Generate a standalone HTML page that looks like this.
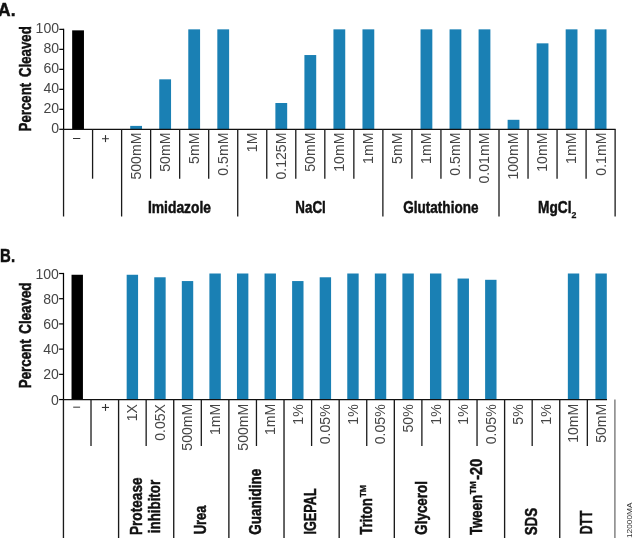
<!DOCTYPE html>
<html><head><meta charset="utf-8"><title>Percent Cleaved</title>
<style>
html,body{margin:0;padding:0;background:#fff;}
body{width:634px;height:538px;overflow:hidden;}
svg{display:block;font-family:'Liberation Sans', sans-serif;will-change:transform;}
</style></head><body>
<svg width="634" height="538" viewBox="0 0 634 538">
<rect width="634" height="538" fill="#fff"/>
<g id="shapes">
<line x1="63.60" y1="28.75" x2="63.60" y2="129.30" stroke="#000" stroke-width="1.25"/>
<line x1="59.30" y1="129.30" x2="63.55" y2="129.30" stroke="#000" stroke-width="1.2"/>
<line x1="59.30" y1="109.31" x2="63.55" y2="109.31" stroke="#000" stroke-width="1.2"/>
<line x1="59.30" y1="89.32" x2="63.55" y2="89.32" stroke="#000" stroke-width="1.2"/>
<line x1="59.30" y1="69.33" x2="63.55" y2="69.33" stroke="#000" stroke-width="1.2"/>
<line x1="59.30" y1="49.34" x2="63.55" y2="49.34" stroke="#000" stroke-width="1.2"/>
<line x1="59.30" y1="29.35" x2="63.55" y2="29.35" stroke="#000" stroke-width="1.2"/>
<rect x="72.16" y="30.35" width="11.80" height="98.95" fill="#000"/>
<rect x="130.22" y="125.90" width="11.80" height="3.40" fill="#1a80b4"/>
<rect x="159.25" y="79.33" width="11.80" height="49.98" fill="#1a80b4"/>
<rect x="188.28" y="29.35" width="11.80" height="99.95" fill="#1a80b4"/>
<rect x="217.32" y="29.35" width="11.80" height="99.95" fill="#1a80b4"/>
<rect x="275.38" y="103.01" width="11.80" height="26.29" fill="#1a80b4"/>
<rect x="304.41" y="55.04" width="11.80" height="74.26" fill="#1a80b4"/>
<rect x="333.44" y="29.35" width="11.80" height="99.95" fill="#1a80b4"/>
<rect x="362.47" y="29.35" width="11.80" height="99.95" fill="#1a80b4"/>
<rect x="420.53" y="29.35" width="11.80" height="99.95" fill="#1a80b4"/>
<rect x="449.56" y="29.35" width="11.80" height="99.95" fill="#1a80b4"/>
<rect x="478.59" y="29.35" width="11.80" height="99.95" fill="#1a80b4"/>
<rect x="507.62" y="119.80" width="11.80" height="9.50" fill="#1a80b4"/>
<rect x="536.64" y="43.34" width="11.80" height="85.96" fill="#1a80b4"/>
<rect x="565.68" y="29.35" width="11.80" height="99.95" fill="#1a80b4"/>
<rect x="594.71" y="29.35" width="11.80" height="99.95" fill="#1a80b4"/>
<line x1="63.05" y1="129.30" x2="615.62" y2="129.30" stroke="#111" stroke-width="1.15"/>
<line x1="63.55" y1="129.30" x2="63.55" y2="216.50" stroke="#1a1a1a" stroke-width="1.3"/>
<line x1="92.58" y1="129.30" x2="92.58" y2="178.70" stroke="#1a1a1a" stroke-width="1.3"/>
<line x1="121.61" y1="129.30" x2="121.61" y2="216.50" stroke="#1a1a1a" stroke-width="1.3"/>
<line x1="150.64" y1="129.30" x2="150.64" y2="178.70" stroke="#1a1a1a" stroke-width="1.3"/>
<line x1="179.67" y1="129.30" x2="179.67" y2="178.70" stroke="#1a1a1a" stroke-width="1.3"/>
<line x1="208.70" y1="129.30" x2="208.70" y2="178.70" stroke="#1a1a1a" stroke-width="1.3"/>
<line x1="237.73" y1="129.30" x2="237.73" y2="216.50" stroke="#1a1a1a" stroke-width="1.3"/>
<line x1="266.76" y1="129.30" x2="266.76" y2="178.70" stroke="#1a1a1a" stroke-width="1.3"/>
<line x1="295.79" y1="129.30" x2="295.79" y2="178.70" stroke="#1a1a1a" stroke-width="1.3"/>
<line x1="324.82" y1="129.30" x2="324.82" y2="178.70" stroke="#1a1a1a" stroke-width="1.3"/>
<line x1="353.85" y1="129.30" x2="353.85" y2="178.70" stroke="#1a1a1a" stroke-width="1.3"/>
<line x1="382.88" y1="129.30" x2="382.88" y2="216.50" stroke="#1a1a1a" stroke-width="1.3"/>
<line x1="411.91" y1="129.30" x2="411.91" y2="178.70" stroke="#1a1a1a" stroke-width="1.3"/>
<line x1="440.94" y1="129.30" x2="440.94" y2="178.70" stroke="#1a1a1a" stroke-width="1.3"/>
<line x1="469.97" y1="129.30" x2="469.97" y2="178.70" stroke="#1a1a1a" stroke-width="1.3"/>
<line x1="499.00" y1="129.30" x2="499.00" y2="216.50" stroke="#1a1a1a" stroke-width="1.3"/>
<line x1="528.03" y1="129.30" x2="528.03" y2="178.70" stroke="#1a1a1a" stroke-width="1.3"/>
<line x1="557.06" y1="129.30" x2="557.06" y2="178.70" stroke="#1a1a1a" stroke-width="1.3"/>
<line x1="586.09" y1="129.30" x2="586.09" y2="178.70" stroke="#1a1a1a" stroke-width="1.3"/>
<line x1="615.12" y1="129.30" x2="615.12" y2="216.50" stroke="#1a1a1a" stroke-width="1.3"/>
<rect x="73.00" y="138.00" width="7.30" height="1.00" fill="#333"/>
<rect x="102.00" y="138.15" width="6.90" height="1.10" fill="#444"/>
<rect x="104.95" y="135.10" width="1.10" height="7.00" fill="#333"/>
<line x1="63.49" y1="272.90" x2="63.49" y2="399.55" stroke="#000" stroke-width="1.25"/>
<line x1="59.10" y1="399.55" x2="63.44" y2="399.55" stroke="#000" stroke-width="1.2"/>
<line x1="59.10" y1="374.34" x2="63.44" y2="374.34" stroke="#000" stroke-width="1.2"/>
<line x1="59.10" y1="349.13" x2="63.44" y2="349.13" stroke="#000" stroke-width="1.2"/>
<line x1="59.10" y1="323.92" x2="63.44" y2="323.92" stroke="#000" stroke-width="1.2"/>
<line x1="59.10" y1="298.71" x2="63.44" y2="298.71" stroke="#000" stroke-width="1.2"/>
<line x1="59.10" y1="273.50" x2="63.44" y2="273.50" stroke="#000" stroke-width="1.2"/>
<rect x="71.53" y="274.76" width="11.40" height="124.79" fill="#000"/>
<rect x="126.67" y="274.76" width="11.40" height="124.79" fill="#1a80b4"/>
<rect x="154.25" y="277.28" width="11.40" height="122.27" fill="#1a80b4"/>
<rect x="181.82" y="281.06" width="11.40" height="118.49" fill="#1a80b4"/>
<rect x="209.39" y="273.50" width="11.40" height="126.05" fill="#1a80b4"/>
<rect x="236.96" y="273.50" width="11.40" height="126.05" fill="#1a80b4"/>
<rect x="264.54" y="273.50" width="11.40" height="126.05" fill="#1a80b4"/>
<rect x="292.11" y="281.06" width="11.40" height="118.49" fill="#1a80b4"/>
<rect x="319.68" y="277.28" width="11.40" height="122.27" fill="#1a80b4"/>
<rect x="347.26" y="273.50" width="11.40" height="126.05" fill="#1a80b4"/>
<rect x="374.83" y="273.50" width="11.40" height="126.05" fill="#1a80b4"/>
<rect x="402.40" y="273.50" width="11.40" height="126.05" fill="#1a80b4"/>
<rect x="429.98" y="273.50" width="11.40" height="126.05" fill="#1a80b4"/>
<rect x="457.55" y="278.54" width="11.40" height="121.01" fill="#1a80b4"/>
<rect x="485.12" y="279.80" width="11.40" height="119.75" fill="#1a80b4"/>
<rect x="567.84" y="273.50" width="11.40" height="126.05" fill="#1a80b4"/>
<rect x="595.41" y="273.50" width="11.40" height="126.05" fill="#1a80b4"/>
<line x1="62.94" y1="399.55" x2="607.00" y2="399.55" stroke="#111" stroke-width="1.2"/>
<line x1="63.44" y1="399.55" x2="63.44" y2="538.00" stroke="#1a1a1a" stroke-width="1.35"/>
<line x1="91.01" y1="399.55" x2="91.01" y2="446.00" stroke="#1a1a1a" stroke-width="1.3"/>
<line x1="118.59" y1="399.55" x2="118.59" y2="538.00" stroke="#1a1a1a" stroke-width="1.35"/>
<line x1="146.16" y1="399.55" x2="146.16" y2="446.00" stroke="#1a1a1a" stroke-width="1.3"/>
<line x1="173.73" y1="399.55" x2="173.73" y2="538.00" stroke="#1a1a1a" stroke-width="1.35"/>
<line x1="201.31" y1="399.55" x2="201.31" y2="446.00" stroke="#1a1a1a" stroke-width="1.3"/>
<line x1="228.88" y1="399.55" x2="228.88" y2="538.00" stroke="#1a1a1a" stroke-width="1.35"/>
<line x1="256.45" y1="399.55" x2="256.45" y2="446.00" stroke="#1a1a1a" stroke-width="1.3"/>
<line x1="284.02" y1="399.55" x2="284.02" y2="538.00" stroke="#1a1a1a" stroke-width="1.35"/>
<line x1="311.60" y1="399.55" x2="311.60" y2="446.00" stroke="#1a1a1a" stroke-width="1.3"/>
<line x1="339.17" y1="399.55" x2="339.17" y2="538.00" stroke="#1a1a1a" stroke-width="1.35"/>
<line x1="366.74" y1="399.55" x2="366.74" y2="446.00" stroke="#1a1a1a" stroke-width="1.3"/>
<line x1="394.32" y1="399.55" x2="394.32" y2="538.00" stroke="#1a1a1a" stroke-width="1.35"/>
<line x1="421.89" y1="399.55" x2="421.89" y2="446.00" stroke="#1a1a1a" stroke-width="1.3"/>
<line x1="449.46" y1="399.55" x2="449.46" y2="538.00" stroke="#1a1a1a" stroke-width="1.35"/>
<line x1="477.04" y1="399.55" x2="477.04" y2="446.00" stroke="#1a1a1a" stroke-width="1.3"/>
<line x1="504.61" y1="399.55" x2="504.61" y2="538.00" stroke="#1a1a1a" stroke-width="1.35"/>
<line x1="532.18" y1="399.55" x2="532.18" y2="446.00" stroke="#1a1a1a" stroke-width="1.3"/>
<line x1="559.75" y1="399.55" x2="559.75" y2="538.00" stroke="#1a1a1a" stroke-width="1.35"/>
<line x1="587.33" y1="399.55" x2="587.33" y2="446.00" stroke="#1a1a1a" stroke-width="1.3"/>
<line x1="614.90" y1="399.55" x2="614.90" y2="538.00" stroke="#7a7a7a" stroke-width="1.4"/>
<rect x="73.20" y="406.60" width="6.90" height="1.20" fill="#555"/>
<rect x="101.90" y="406.90" width="7.10" height="1.10" fill="#333"/>
<rect x="104.95" y="404.00" width="1.10" height="6.90" fill="#333"/>
</g>
<g id="labels">
<text transform="translate(-1.90,15.60)" id="t_A." font-size="19" fill="#111" font-weight="bold" stroke="#111" stroke-width="0.5" text-anchor="start" textLength="17.38" lengthAdjust="spacingAndGlyphs">A.</text>
<text transform="translate(0.11,261.80)" id="t_B." font-size="19" fill="#111" font-weight="bold" stroke="#111" stroke-width="0.5" text-anchor="start" textLength="14.93" lengthAdjust="spacingAndGlyphs">B.</text>
<text transform="translate(147.96,212.75)" id="t_Imidazole" font-size="17.2" fill="#111" font-weight="bold" stroke="#111" stroke-width="0.5" text-anchor="start" textLength="63.07" lengthAdjust="spacingAndGlyphs">Imidazole</text>
<text transform="translate(295.36,212.80)" id="t_NaCl" font-size="17.2" fill="#111" font-weight="bold" stroke="#111" stroke-width="0.5" text-anchor="start" textLength="30.46" lengthAdjust="spacingAndGlyphs">NaCl</text>
<text transform="translate(403.33,212.70)" id="t_Glutathione" font-size="17.2" fill="#111" font-weight="bold" stroke="#111" stroke-width="0.5" text-anchor="start" textLength="75.09" lengthAdjust="spacingAndGlyphs">Glutathione</text>
<text transform="translate(538.02,212.80)" id="t_MgCl" font-size="17.2" fill="#111" font-weight="bold" stroke="#111" stroke-width="0.5" text-anchor="start" textLength="33.43" lengthAdjust="spacingAndGlyphs">MgCl</text>
<text transform="translate(571.54,218.30)" id="t_sub2" font-size="9.6" fill="#111" font-weight="bold" stroke="#111" stroke-width="0.25" text-anchor="start" textLength="4.90" lengthAdjust="spacingAndGlyphs">2</text>
<text transform="translate(30.80,131.47) rotate(-90)" id="t_PercentA" font-size="17.2" fill="#111" font-weight="bold" stroke="#111" stroke-width="0.5" word-spacing="2.6" text-anchor="start" textLength="105.23" lengthAdjust="spacingAndGlyphs">Percent Cleaved</text>
<text transform="translate(31.20,388.23) rotate(-90)" id="t_PercentB" font-size="17.2" fill="#111" font-weight="bold" stroke="#111" stroke-width="0.5" word-spacing="2.6" text-anchor="start" textLength="105.70" lengthAdjust="spacingAndGlyphs">Percent Cleaved</text>
<text transform="translate(141.90,535.04) rotate(-90)" id="t_Protease" font-size="17.2" fill="#111" font-weight="bold" stroke="#111" stroke-width="0.5" text-anchor="start" textLength="57.60" lengthAdjust="spacingAndGlyphs">Protease</text>
<text transform="translate(160.40,533.13) rotate(-90)" id="t_inhibitor" font-size="17.2" fill="#111" font-weight="bold" stroke="#111" stroke-width="0.5" text-anchor="start" textLength="53.25" lengthAdjust="spacingAndGlyphs">inhibitor</text>
<text transform="translate(206.20,534.32) rotate(-90)" id="t_Urea" font-size="17.2" fill="#111" font-weight="bold" stroke="#111" stroke-width="0.5" text-anchor="start" textLength="28.74" lengthAdjust="spacingAndGlyphs">Urea</text>
<text transform="translate(261.00,534.77) rotate(-90)" id="t_Guanidine" font-size="17.2" fill="#111" font-weight="bold" stroke="#111" stroke-width="0.5" text-anchor="start" textLength="66.04" lengthAdjust="spacingAndGlyphs">Guanidine</text>
<text transform="translate(316.30,534.61) rotate(-90)" id="t_IGEPAL" font-size="17.2" fill="#111" font-weight="bold" stroke="#111" stroke-width="0.5" text-anchor="start" textLength="46.27" lengthAdjust="spacingAndGlyphs">IGEPAL</text>
<text transform="translate(372.00,534.82) rotate(-90)" id="t_Triton" font-size="17.2" fill="#111" font-weight="bold" stroke="#111" stroke-width="0.5" text-anchor="start" textLength="36.59" lengthAdjust="spacingAndGlyphs">Triton</text>
<text transform="translate(366.30,497.33) rotate(-90)" id="t_TM1" font-size="8.8" fill="#111" font-weight="bold" stroke="#111" stroke-width="0.3" text-anchor="start" textLength="12.28" lengthAdjust="spacingAndGlyphs">TM</text>
<text transform="translate(426.70,534.72) rotate(-90)" id="t_Glycerol" font-size="17.2" fill="#111" font-weight="bold" stroke="#111" stroke-width="0.5" text-anchor="start" textLength="53.64" lengthAdjust="spacingAndGlyphs">Glycerol</text>
<text transform="translate(482.00,535.02) rotate(-90)" id="t_Tween" font-size="17.2" fill="#111" font-weight="bold" stroke="#111" stroke-width="0.5" text-anchor="start" textLength="40.03" lengthAdjust="spacingAndGlyphs">Tween</text>
<text transform="translate(476.25,494.23) rotate(-90)" id="t_TM2" font-size="8.8" fill="#111" font-weight="bold" stroke="#111" stroke-width="0.3" text-anchor="start" textLength="13.11" lengthAdjust="spacingAndGlyphs">TM</text>
<text transform="translate(482.00,479.71) rotate(-90)" id="t_-20" font-size="17.2" fill="#111" font-weight="bold" stroke="#111" stroke-width="0.5" text-anchor="start" textLength="20.92" lengthAdjust="spacingAndGlyphs">-20</text>
<text transform="translate(537.40,535.32) rotate(-90)" id="t_SDS" font-size="17.2" fill="#111" font-weight="bold" stroke="#111" stroke-width="0.5" text-anchor="start" textLength="27.52" lengthAdjust="spacingAndGlyphs">SDS</text>
<text transform="translate(592.00,534.34) rotate(-90)" id="t_DTT" font-size="17.2" fill="#111" font-weight="bold" stroke="#111" stroke-width="0.5" text-anchor="start" textLength="23.79" lengthAdjust="spacingAndGlyphs">DTT</text>
<text transform="translate(632.30,538.08) rotate(-90)" id="t_id" font-size="7.6" fill="#333" font-weight="normal" text-anchor="start" textLength="35.70" lengthAdjust="spacingAndGlyphs">12000MA</text>
<text transform="translate(59.06,133.25) scale(0.965,1)" id="t_yA0" font-size="14.6" fill="#454545" font-weight="normal" text-anchor="end">0</text>
<text transform="translate(58.93,404.55) scale(0.965,1)" id="t_yB0" font-size="14.6" fill="#454545" font-weight="normal" text-anchor="end">0</text>
<text transform="translate(59.06,113.26) scale(0.965,1)" id="t_yA20" font-size="14.6" fill="#454545" font-weight="normal" text-anchor="end">20</text>
<text transform="translate(58.93,379.34) scale(0.965,1)" id="t_yB20" font-size="14.6" fill="#454545" font-weight="normal" text-anchor="end">20</text>
<text transform="translate(59.06,93.27) scale(0.965,1)" id="t_yA40" font-size="14.6" fill="#454545" font-weight="normal" text-anchor="end">40</text>
<text transform="translate(58.93,354.13) scale(0.965,1)" id="t_yB40" font-size="14.6" fill="#454545" font-weight="normal" text-anchor="end">40</text>
<text transform="translate(59.06,73.28) scale(0.965,1)" id="t_yA60" font-size="14.6" fill="#454545" font-weight="normal" text-anchor="end">60</text>
<text transform="translate(58.93,328.92) scale(0.965,1)" id="t_yB60" font-size="14.6" fill="#454545" font-weight="normal" text-anchor="end">60</text>
<text transform="translate(59.06,53.29) scale(0.965,1)" id="t_yA80" font-size="14.6" fill="#454545" font-weight="normal" text-anchor="end">80</text>
<text transform="translate(58.93,303.71) scale(0.965,1)" id="t_yB80" font-size="14.6" fill="#454545" font-weight="normal" text-anchor="end">80</text>
<text transform="translate(59.06,33.30) scale(0.965,1)" id="t_yA100" font-size="14.6" fill="#454545" font-weight="normal" text-anchor="end">100</text>
<text transform="translate(58.93,278.50) scale(0.965,1)" id="t_yB100" font-size="14.6" fill="#454545" font-weight="normal" text-anchor="end">100</text>
<text transform="translate(141.03,132.63) rotate(-90) scale(0.965,1)" id="t_tA2" font-size="14.6" fill="#454545" font-weight="normal" text-anchor="end">500mM</text>
<text transform="translate(170.06,132.63) rotate(-90) scale(0.965,1)" id="t_tA3" font-size="14.6" fill="#454545" font-weight="normal" text-anchor="end">50mM</text>
<text transform="translate(199.09,132.63) rotate(-90) scale(0.965,1)" id="t_tA4" font-size="14.6" fill="#454545" font-weight="normal" text-anchor="end">5mM</text>
<text transform="translate(228.12,132.63) rotate(-90) scale(0.965,1)" id="t_tA5" font-size="14.6" fill="#454545" font-weight="normal" text-anchor="end">0.5mM</text>
<text transform="translate(257.14,132.63) rotate(-90) scale(0.965,1)" id="t_tA6" font-size="14.6" fill="#454545" font-weight="normal" text-anchor="end">1M</text>
<text transform="translate(286.18,132.63) rotate(-90) scale(0.965,1)" id="t_tA7" font-size="14.6" fill="#454545" font-weight="normal" text-anchor="end">0.125M</text>
<text transform="translate(315.20,132.63) rotate(-90) scale(0.965,1)" id="t_tA8" font-size="14.6" fill="#454545" font-weight="normal" text-anchor="end">50mM</text>
<text transform="translate(344.24,132.63) rotate(-90) scale(0.965,1)" id="t_tA9" font-size="14.6" fill="#454545" font-weight="normal" text-anchor="end">10mM</text>
<text transform="translate(373.26,132.63) rotate(-90) scale(0.965,1)" id="t_tA10" font-size="14.6" fill="#454545" font-weight="normal" text-anchor="end">1mM</text>
<text transform="translate(402.30,132.63) rotate(-90) scale(0.965,1)" id="t_tA11" font-size="14.6" fill="#454545" font-weight="normal" text-anchor="end">5mM</text>
<text transform="translate(431.32,132.63) rotate(-90) scale(0.965,1)" id="t_tA12" font-size="14.6" fill="#454545" font-weight="normal" text-anchor="end">1mM</text>
<text transform="translate(460.36,132.63) rotate(-90) scale(0.965,1)" id="t_tA13" font-size="14.6" fill="#454545" font-weight="normal" text-anchor="end">0.5mM</text>
<text transform="translate(489.38,132.63) rotate(-90) scale(0.965,1)" id="t_tA14" font-size="14.6" fill="#454545" font-weight="normal" text-anchor="end">0.01mM</text>
<text transform="translate(518.41,132.63) rotate(-90) scale(0.965,1)" id="t_tA15" font-size="14.6" fill="#454545" font-weight="normal" text-anchor="end">100mM</text>
<text transform="translate(547.44,132.63) rotate(-90) scale(0.965,1)" id="t_tA16" font-size="14.6" fill="#454545" font-weight="normal" text-anchor="end">10mM</text>
<text transform="translate(576.48,132.63) rotate(-90) scale(0.965,1)" id="t_tA17" font-size="14.6" fill="#454545" font-weight="normal" text-anchor="end">1mM</text>
<text transform="translate(605.50,132.63) rotate(-90) scale(0.965,1)" id="t_tA18" font-size="14.6" fill="#454545" font-weight="normal" text-anchor="end">0.1mM</text>
<text transform="translate(137.27,404.01) rotate(-90) scale(0.965,1)" id="t_tB2" font-size="14.6" fill="#454545" font-weight="normal" text-anchor="end">1X</text>
<text transform="translate(164.85,404.01) rotate(-90) scale(0.965,1)" id="t_tB3" font-size="14.6" fill="#454545" font-weight="normal" text-anchor="end">0.05X</text>
<text transform="translate(192.42,403.75) rotate(-90) scale(0.965,1)" id="t_tB4" font-size="14.6" fill="#454545" font-weight="normal" text-anchor="end">500mM</text>
<text transform="translate(219.99,403.75) rotate(-90) scale(0.965,1)" id="t_tB5" font-size="14.6" fill="#454545" font-weight="normal" text-anchor="end">1mM</text>
<text transform="translate(247.56,403.75) rotate(-90) scale(0.965,1)" id="t_tB6" font-size="14.6" fill="#454545" font-weight="normal" text-anchor="end">500mM</text>
<text transform="translate(275.14,403.75) rotate(-90) scale(0.965,1)" id="t_tB7" font-size="14.6" fill="#454545" font-weight="normal" text-anchor="end">1mM</text>
<text transform="translate(302.71,404.30) rotate(-90) scale(0.965,1)" id="t_tB8" font-size="14.6" fill="#454545" font-weight="normal" text-anchor="end">1%</text>
<text transform="translate(330.28,404.30) rotate(-90) scale(0.965,1)" id="t_tB9" font-size="14.6" fill="#454545" font-weight="normal" text-anchor="end">0.05%</text>
<text transform="translate(357.86,404.30) rotate(-90) scale(0.965,1)" id="t_tB10" font-size="14.6" fill="#454545" font-weight="normal" text-anchor="end">1%</text>
<text transform="translate(385.43,404.30) rotate(-90) scale(0.965,1)" id="t_tB11" font-size="14.6" fill="#454545" font-weight="normal" text-anchor="end">0.05%</text>
<text transform="translate(413.00,404.30) rotate(-90) scale(0.965,1)" id="t_tB12" font-size="14.6" fill="#454545" font-weight="normal" text-anchor="end">50%</text>
<text transform="translate(440.58,404.30) rotate(-90) scale(0.965,1)" id="t_tB13" font-size="14.6" fill="#454545" font-weight="normal" text-anchor="end">1%</text>
<text transform="translate(468.15,404.30) rotate(-90) scale(0.965,1)" id="t_tB14" font-size="14.6" fill="#454545" font-weight="normal" text-anchor="end">1%</text>
<text transform="translate(495.72,404.30) rotate(-90) scale(0.965,1)" id="t_tB15" font-size="14.6" fill="#454545" font-weight="normal" text-anchor="end">0.05%</text>
<text transform="translate(523.29,404.30) rotate(-90) scale(0.965,1)" id="t_tB16" font-size="14.6" fill="#454545" font-weight="normal" text-anchor="end">5%</text>
<text transform="translate(550.87,404.30) rotate(-90) scale(0.965,1)" id="t_tB17" font-size="14.6" fill="#454545" font-weight="normal" text-anchor="end">1%</text>
<text transform="translate(578.44,403.75) rotate(-90) scale(0.965,1)" id="t_tB18" font-size="14.6" fill="#454545" font-weight="normal" text-anchor="end">10mM</text>
<text transform="translate(606.01,403.75) rotate(-90) scale(0.965,1)" id="t_tB19" font-size="14.6" fill="#454545" font-weight="normal" text-anchor="end">50mM</text>
</g>
</svg>
</body></html>
